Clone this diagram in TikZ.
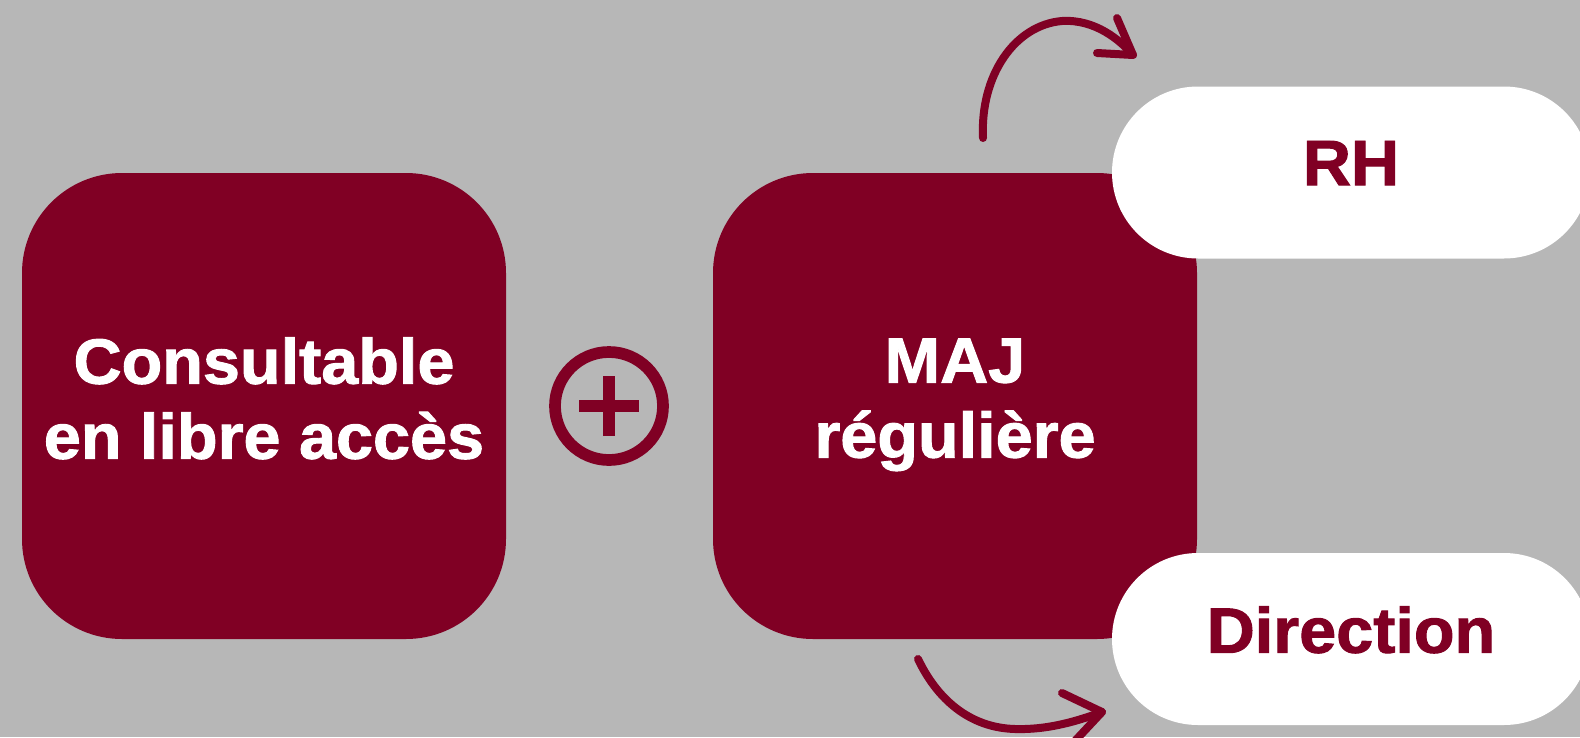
\documentclass[tikz,border=0pt]{standalone}
\usepackage{fontspec}
\setmainfont{Liberation Sans}
\newfontfamily\gras{Liberation Sans}[FakeStretch=1.04,BoldFeatures={FakeBold=1.5}]
\definecolor{bordeaux}{RGB}{128,0,36}
\definecolor{fond}{RGB}{183,183,183}

\begin{document}
\begin{tikzpicture}[x=1pt,y=-1pt,
  bloc/.style={fill=bordeaux,text=white,rounded corners=100pt,minimum width=484pt,minimum height=466pt,inner sep=0pt,align=center,text depth=16pt,font=\gras\bfseries\fontsize{64}{75}\selectfont},
  pilule/.style={fill=white,text=bordeaux,rounded corners=86pt,minimum width=478pt,minimum height=172pt,inner sep=0pt,text depth=19pt,font=\gras\bfseries\fontsize{64}{75}\selectfont},
  fleche/.style={draw=bordeaux,line width=8pt,line cap=round,line join=round}]
\useasboundingbox (0,0) rectangle (1580,737);
\fill[fond] (0,0) rectangle (1580,737);
\node[bloc] (libre) at (264,406) {Consultable\\en libre accès};
\node[circle,draw=bordeaux,line width=11.7pt,minimum size=108pt,inner sep=0pt] (plus) at (609,406) {};
\draw[bordeaux,line width=11.7pt] ([xshift=-30pt]plus.center) -- ([xshift=30pt]plus.center);
\draw[bordeaux,line width=11.7pt] ([yshift=-30pt]plus.center) -- ([yshift=30pt]plus.center);
\node[bloc] (maj) at (955,406) {MAJ\\régulière};
\node[pilule] (rh) at (1351,172.5) {RH};
\node[pilule] (direction) at (1351,639) {Direction};
\coordinate (majhaut) at (983,138);
\coordinate (versrh) at (1133,55);
\coordinate (majbas) at (918,659);
\coordinate (versdir) at (1102,712);
\draw[fleche] (majhaut) .. controls (980,75) and (1015,25) .. (1062,21) .. controls (1095,19) and (1120,40) .. (versrh);
\draw[fleche] (1117,18) -- (versrh) -- (1097,53);
\draw[fleche] (majbas) .. controls (940,705) and (975,728) .. (1015,729) .. controls (1050,730) and (1080,720) .. (versdir);
\draw[fleche] (1062,693) -- (versdir) -- (1074,742);
\end{tikzpicture}
\end{document}
